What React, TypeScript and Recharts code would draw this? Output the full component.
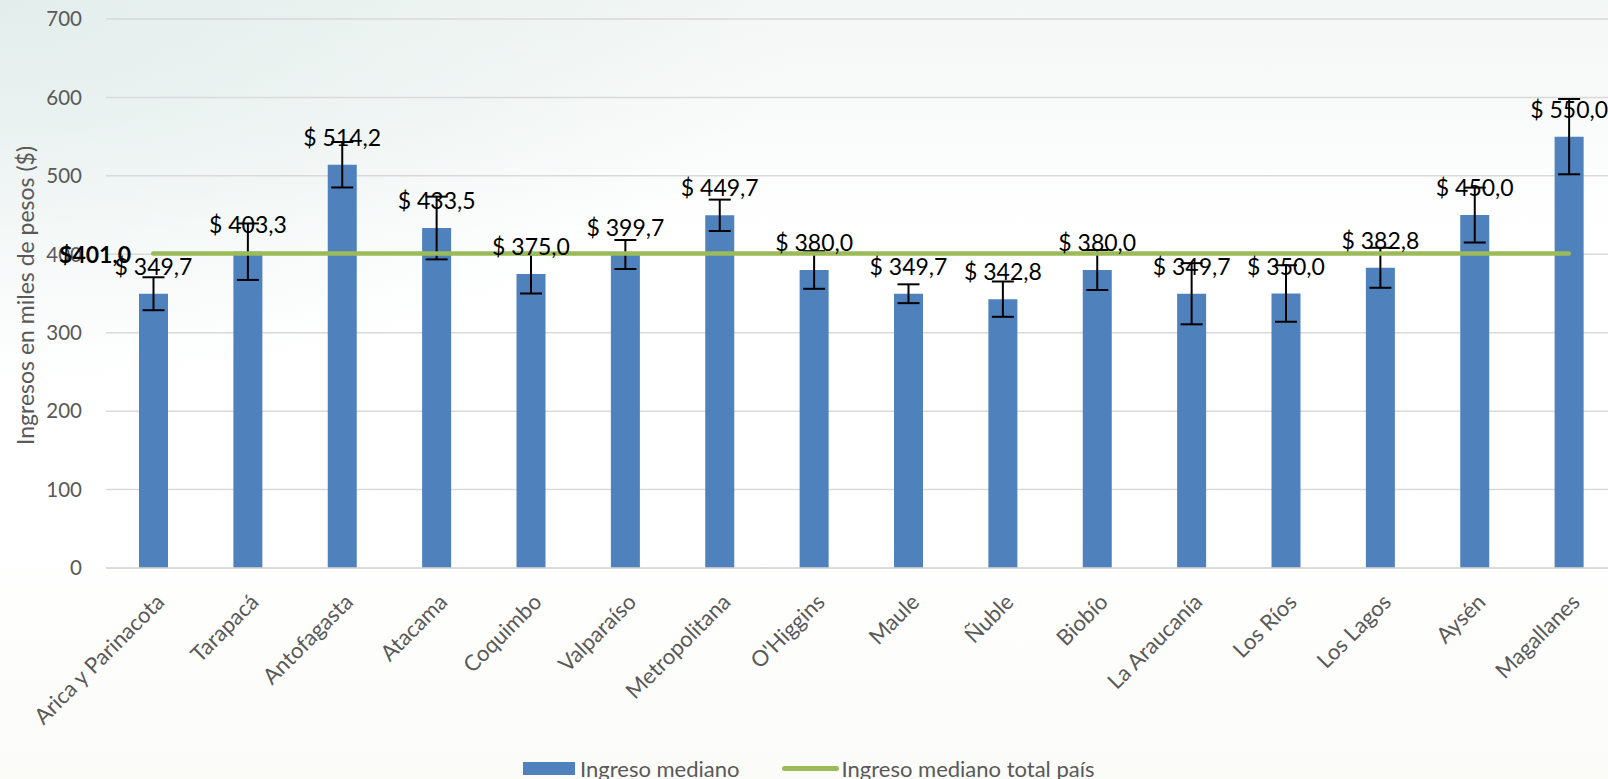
import React from 'react';
import { Bar, BarChart, CartesianGrid, ErrorBar, LabelList, Line, XAxis, YAxis } from 'recharts';

const regions = [
  'Arica y Parinacota',
  'Tarapacá',
  'Antofagasta',
  'Atacama',
  'Coquimbo',
  'Valparaíso',
  'Metropolitana',
  "O'Higgins",
  'Maule',
  'Ñuble',
  'Biobío',
  'La Araucanía',
  'Los Ríos',
  'Los Lagos',
  'Aysén',
  'Magallanes',
];
const medians = [349.7, 403.3, 514.2, 433.5, 375.0, 399.7, 449.7, 380.0, 349.7, 342.8, 380.0, 349.7, 350.0, 382.8, 450.0, 550.0];
const errors = [21, 36, 29, 40, 25, 18.5, 20, 24, 12, 22.5, 25.5, 39, 36, 25.5, 35, 48];
const nationalMedian = 401.0;
const yTicks = [0, 100, 200, 300, 400, 500, 600, 700];

const data = regions.map((r, i) => ({
  region: r,
  mediano: medians[i],
  err: errors[i],
  total: nationalMedian,
}));

const FONT = 'Lato, "Open Sans", sans-serif';
const fmt = (v: number) => v.toFixed(1).replace('.', ',');

const XTick = (props: any) => {
  const { x, y, payload } = props;
  return (
    <g transform={`translate(${x + 7},${y + 30})`}>
      <text
        textAnchor="end"
        transform="rotate(-45)"
        dy="0.35em"
        fill="#595959"
        fontSize={22}
        fontFamily={FONT}
      >
        {payload.value}
      </text>
    </g>
  );
};

const BarLabel = (props: any) => {
  const { x, y, width, value } = props;
  return (
    <text
      x={x + width / 2}
      y={y - 19}
      textAnchor="middle"
      fill="#000"
      fontSize={23}
      fontFamily={FONT}
    >
      {`$ ${fmt(value)}`}
    </text>
  );
};

const LineLabel = (props: any) => {
  const { x, y, value, index } = props;
  if (index !== 0) return null;
  return (
    <text
      x={x - 22}
      y={y}
      textAnchor="end"
      dominantBaseline="central"
      fill="#000"
      fontWeight="bold"
      fontSize={23}
      fontFamily={FONT}
    >
      {`$${fmt(value)}`}
    </text>
  );
};

const YTitle = (props: any) => {
  const { viewBox } = props;
  const cx = 25;
  const cy = viewBox.y + viewBox.height / 2 + 2;
  return (
    <text
      x={cx}
      y={cy}
      transform={`rotate(-90, ${cx}, ${cy})`}
      textAnchor="middle"
      dominantBaseline="central"
      fill="#595959"
      fontSize={23}
      fontFamily={FONT}
    >
      Ingresos en miles de pesos ($)
    </text>
  );
};

export default function App() {
  return (
    <div
      style={{
        position: 'absolute',
        left: 0,
        top: 0,
        width: 1608,
        height: 779,
        overflow: 'hidden',
        background:
          'radial-gradient(ellipse at 0% 0%, #e3eeec 0%, rgba(255,255,255,0) 35%), linear-gradient(to bottom, #f3f7f5 0%, #ffffff 30%, #ffffff 70%, #fbfbf8 100%)',
        fontFamily: FONT,
      }}
    >
      <BarChart
        width={1640}
        height={779}
        data={data}
        margin={{ top: 19, right: 24, left: 0, bottom: 61 }}
      >
        <CartesianGrid vertical={false} stroke="#d9d9d9" strokeWidth={1.5} />
        <XAxis
          dataKey="region"
          interval={0}
          height={150}
          tickLine={false}
          tickSize={0}
          tickMargin={0}
          axisLine={{ stroke: '#d9d9d9', strokeWidth: 1.5 }}
          tick={<XTick />}
        />
        <YAxis
          domain={[0, 700]}
          ticks={yTicks}
          interval={0}
          width={106}
          axisLine={false}
          tickLine={false}
          tickSize={0}
          tickMargin={24}
          tick={{ fill: '#595959', fontSize: 20.5, fontFamily: FONT }}
          label={<YTitle />}
        />
        <Bar dataKey="mediano" fill="#4f81bd" barSize={29} isAnimationActive={false}>
          <ErrorBar dataKey="err" width={11} stroke="#000" strokeWidth={2} direction="y" />
          <LabelList dataKey="mediano" content={<BarLabel />} />
        </Bar>
        <Line
          dataKey="total"
          stroke="#9bbb59"
          strokeWidth={4.5}
          strokeLinecap="round"
          dot={false}
          activeDot={false}
          isAnimationActive={false}
        >
          <LabelList dataKey="total" content={<LineLabel />} />
        </Line>
      </BarChart>
      <div
        style={{
          position: 'absolute',
          top: 754,
          left: 523,
          display: 'flex',
          alignItems: 'center',
          height: 28,
          fontSize: 22,
          color: '#595959',
          whiteSpace: 'nowrap',
        }}
      >
        <span style={{ display: 'inline-block', width: 52, height: 13, background: '#4f81bd', marginRight: 5 }} />
        <span>Ingreso mediano</span>
        <span
          style={{
            display: 'inline-block',
            width: 57,
            height: 5,
            borderRadius: 3,
            background: '#9bbb59',
            marginLeft: 42,
            marginRight: 3,
          }}
        />
        <span>Ingreso mediano total país</span>
      </div>
    </div>
  );
}
